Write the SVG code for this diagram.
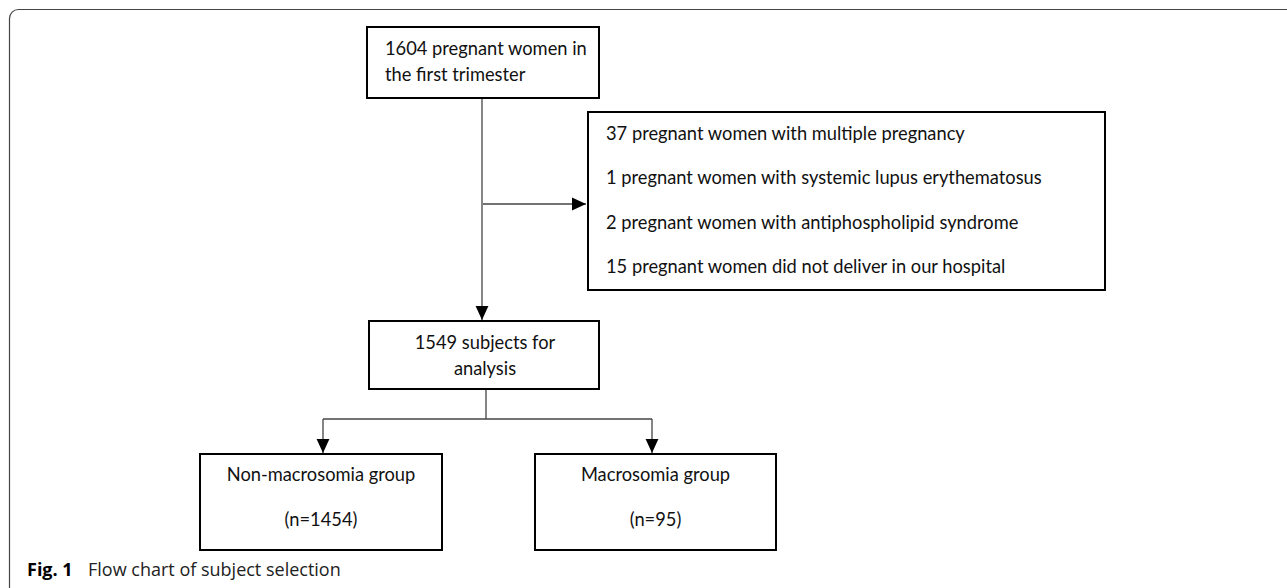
<svg xmlns="http://www.w3.org/2000/svg" width="1287" height="588" viewBox="0 0 1287 588">
<defs>
<style>
.box{fill:#fff;stroke:#000;stroke-width:2}
.conn{fill:none;stroke:#444;stroke-width:1.3}
.t{font-family:Lato,"Open Sans","Liberation Sans",sans-serif;font-size:18.3px;fill:#111}
.c{text-anchor:middle}
.cap{font-family:"Open Sans","Noto Sans","Liberation Sans",sans-serif;font-size:18px;fill:#222}
</style>
<marker id="arr" markerUnits="userSpaceOnUse" markerWidth="14" markerHeight="14" viewBox="0 0 12 12" refX="12" refY="6" orient="auto">
<path d="M0,0.5 L12,6 L0,11.5 Z" fill="#000"/>
</marker>
</defs>
<rect width="1287" height="588" fill="#fff"/>
<rect x="9.5" y="9.5" width="1300" height="600" rx="9" ry="9" fill="none" stroke="#444" stroke-width="1.2"/>
<g id="connectors">
<line class="conn" x1="482" y1="98" x2="482" y2="320" marker-end="url(#arr)"/>
<line class="conn" x1="483" y1="204" x2="586" y2="204" marker-end="url(#arr)"/>
<line class="conn" x1="486" y1="389" x2="486" y2="419"/>
<line class="conn" x1="323" y1="419" x2="652" y2="419"/>
<line class="conn" x1="323" y1="419" x2="323" y2="453" marker-end="url(#arr)"/>
<line class="conn" x1="652" y1="419" x2="652" y2="453" marker-end="url(#arr)"/>
</g>
<g id="node-start">
<rect class="box" x="367" y="27" width="232" height="71"/>
<text class="t" x="385" y="55">1604 pregnant women in</text>
<text class="t" x="385" y="81">the first trimester</text>
</g>
<g id="node-excluded">
<rect class="box" x="588" y="112" width="517" height="178"/>
<text class="t" x="606" y="140">37 pregnant women with multiple pregnancy</text>
<text class="t" x="606" y="184">1 pregnant women with systemic lupus erythematosus</text>
<text class="t" x="606" y="229">2 pregnant women with antiphospholipid syndrome</text>
<text class="t" x="606" y="273">15 pregnant women did not deliver in our hospital</text>
</g>
<g id="node-analysis">
<rect class="box" x="369" y="321" width="230" height="68"/>
<text class="t c" x="485" y="349">1549 subjects for</text>
<text class="t c" x="485" y="375">analysis</text>
</g>
<g id="node-nonmacro">
<rect class="box" x="200" y="454" width="242" height="96"/>
<text class="t c" x="321" y="481">Non-macrosomia group</text>
<text class="t c" x="321" y="526">(n=1454)</text>
</g>
<g id="node-macro">
<rect class="box" x="535" y="454" width="241" height="96"/>
<text class="t c" x="655.5" y="481">Macrosomia group</text>
<text class="t c" x="655.5" y="526">(n=95)</text>
</g>
<text class="cap" x="27" y="576"><tspan font-weight="bold" fill="#000">Fig. 1</tspan><tspan x="88">Flow chart of subject selection</tspan></text>
</svg>
